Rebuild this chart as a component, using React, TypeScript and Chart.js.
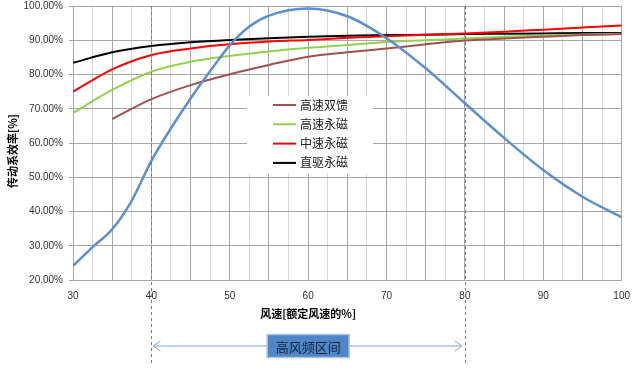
import React, { useEffect, useRef } from "react";
import { Chart, registerables } from "chart.js";

Chart.register(...registerables);

// wind speed (% of rated)
const windSpeeds = [30, 35, 40, 45, 50, 55, 60, 65, 70, 75, 80, 85, 90, 95, 100];
const freqSpeeds = [30, 32.5, 35, 37.5, 40, 42.5, 45, 47.5, 50, 52.5, 55, 60, 65, 70, 75, 80, 85, 90, 95, 100];
const freqValues = [24.1, 29.6, 34.8, 43.2, 54.8, 64.3, 73.0, 81.0, 88.5, 94.0, 97.2, 99.3, 97.0, 90.6, 81.8, 71.6, 61.5, 52.1, 44.3, 38.3];

const dfigSpeeds = [35, 40, 45, 50, 55, 60, 65, 70, 75, 80, 85, 90, 95, 100];
const dfigValues = [67.0, 72.8, 76.9, 80.1, 82.8, 85.2, 86.5, 87.6, 88.8, 89.9, 90.5, 91.0, 91.5, 91.8];
const hsPmValues = [68.8, 75.5, 80.8, 83.7, 85.4, 86.7, 87.8, 88.6, 89.5, 90.0, 90.5, 91.0, 91.4, 91.7, 91.9];
const msPmValues = [75.0, 81.5, 85.7, 87.6, 88.8, 89.6, 90.1, 90.7, 91.2, 91.6, 92.0, 92.5, 93.1, 93.7, 94.3];
const ddPmValues = [83.4, 86.5, 88.3, 89.4, 90.1, 90.6, 91.0, 91.3, 91.5, 91.6, 91.8, 91.9, 92.0, 92.1, 92.1];

const seriesNames = ["高速双馈", "高速永磁", "中速永磁", "直驱永磁"];
const seriesColors = ["#a0504e", "#92d050", "#ff0000", "#000000"];
const freqColor = "#5b8fd0";

const yTitle = "传动系效率[%]";
const xTitle = "风速[额定风速的%]";
const bandLabel = "高风频区间";
const bandStart = 40;
const bandEnd = 80;

const toPts = (xs: number[], ys: number[]) => xs.map((x, i) => ({ x, y: ys[i] }));

const FONT = "'Liberation Sans', 'Noto Sans CJK SC', sans-serif";
const CJK = "'Noto Sans CJK SC', 'Liberation Sans', sans-serif";

const overlayPlugin = {
  id: "overlay",
  beforeDatasetsDraw(chart: any) {
    const { ctx, chartArea } = chart;
    ctx.save();
    ctx.fillStyle = "#ffffff";
    ctx.fillRect(chartArea.left + 174, chartArea.top + 90, 126, 78);
    ctx.restore();
  },
  afterDatasetsDraw(chart: any) {
    const { ctx, chartArea, scales } = chart;
    const xs = scales.x;
    ctx.save();
    const lx = chartArea.left + 200;
    let ly = chartArea.top + 99;
    seriesNames.forEach((name, i) => {
      ctx.strokeStyle = seriesColors[i];
      ctx.lineWidth = 2;
      ctx.beginPath();
      ctx.moveTo(lx, ly);
      ctx.lineTo(lx + 23, ly);
      ctx.stroke();
      ctx.fillStyle = "#222";
      ctx.font = `12px ${CJK}`;
      ctx.textAlign = "left";
      ctx.textBaseline = "middle";
      ctx.fillText(name, lx + 27, ly);
      ly += 19.3;
    });
    ctx.restore();

    const x1 = xs.getPixelForValue(bandStart);
    const x2 = xs.getPixelForValue(bandEnd);
    ctx.save();
    ctx.strokeStyle = "#4f81bd";
    ctx.lineWidth = 1;
    ctx.setLineDash([3, 3]);
    [x1, x2].forEach((px) => {
      ctx.beginPath();
      ctx.moveTo(Math.round(px) + 0.5, chartArea.top);
      ctx.lineTo(Math.round(px) + 0.5, 366);
      ctx.stroke();
    });
    ctx.restore();
  },
  afterDraw(chart: any) {
    const { ctx, chartArea, scales } = chart;
    const xs = scales.x;
    const x1 = xs.getPixelForValue(bandStart);
    const x2 = xs.getPixelForValue(bandEnd);
    const mid = (x1 + x2) / 2;
    ctx.save();
    ctx.translate(13, (chartArea.top + chartArea.bottom) / 2 + 8);
    ctx.rotate(-Math.PI / 2);
    ctx.font = `bold 11px ${CJK}`;
    ctx.fillStyle = "#000";
    ctx.textAlign = "center";
    ctx.textBaseline = "middle";
    ctx.fillText(yTitle, 0, 0);
    ctx.restore();

    ctx.save();
    ctx.font = `bold 11px ${CJK}`;
    ctx.fillStyle = "#000";
    ctx.textAlign = "center";
    ctx.textBaseline = "middle";
    ctx.fillText(xTitle, mid, chartArea.bottom + 34);

    const ay = chartArea.bottom + 66;
    ctx.strokeStyle = "#7fa6d6";
    ctx.lineWidth = 1;
    ctx.beginPath();
    ctx.moveTo(x1 + 2, ay);
    ctx.lineTo(x2 - 3, ay);
    ctx.stroke();
    ctx.beginPath();
    ctx.moveTo(x1 + 9, ay - 5);
    ctx.lineTo(x1 + 2, ay);
    ctx.lineTo(x1 + 9, ay + 5);
    ctx.moveTo(x2 - 10, ay - 5);
    ctx.lineTo(x2 - 3, ay);
    ctx.lineTo(x2 - 10, ay + 5);
    ctx.stroke();

    const bw = 82;
    const bh = 23;
    ctx.fillStyle = "#4e86c6";
    ctx.fillRect(mid - bw / 2, ay - bh / 2, bw, bh);
    ctx.strokeStyle = "#a9c4e4";
    ctx.lineWidth = 1.5;
    ctx.strokeRect(mid - bw / 2, ay - bh / 2, bw, bh);
    ctx.fillStyle = "#14233d";
    ctx.font = `13px ${CJK}`;
    ctx.fillText(bandLabel, mid, ay + 1);
    ctx.restore();
  },
};

export default function App() {
  const ref = useRef<HTMLCanvasElement | null>(null);

  useEffect(() => {
    document.body.style.margin = "0";
    const canvas = ref.current;
    if (!canvas) return;
    const common = { pointRadius: 0, cubicInterpolationMode: "monotone", fill: false };
    const chart = new Chart(canvas, {
      type: "line",
      data: {
        datasets: [
          { label: "风频", data: toPts(freqSpeeds, freqValues), borderColor: freqColor, borderWidth: 2.5, ...common },
          { label: seriesNames[0], data: toPts(dfigSpeeds, dfigValues), borderColor: seriesColors[0], borderWidth: 2, ...common },
          { label: seriesNames[1], data: toPts(windSpeeds, hsPmValues), borderColor: seriesColors[1], borderWidth: 2, ...common },
          { label: seriesNames[2], data: toPts(windSpeeds, msPmValues), borderColor: seriesColors[2], borderWidth: 2, ...common },
          { label: seriesNames[3], data: toPts(windSpeeds, ddPmValues), borderColor: seriesColors[3], borderWidth: 2, ...common },
        ],
      },
      options: {
        animation: false,
        responsive: false,
        devicePixelRatio: 1,
        layout: { padding: { left: 0, right: 16, top: 6, bottom: 0 } },
        plugins: {
          legend: { display: false },
          tooltip: { enabled: false },
        },
        scales: {
          x: {
            type: "linear",
            min: 30,
            max: 100,
            afterFit: (s: any) => {
              s.height = 90;
            },
            ticks: {
              stepSize: 2.5,
              autoSkip: false,
              maxRotation: 0,
              padding: 10,
              color: "#333",
              font: { family: FONT, size: 10 },
              callback: (v: any) => (Number(v) % 10 === 0 ? String(v) : ""),
            },
            grid: {
              color: (c: any) =>
                c.tick && c.tick.value % 5 === 0 ? "#a6a6a6" : "#d9d9d9",
              drawTicks: false,
            },
            border: { color: "#a6a6a6" },
          },
          y: {
            min: 20,
            max: 100,
            afterFit: (s: any) => {
              s.width = 73;
              s.paddingTop = 0;
              s.paddingBottom = 0;
            },
            ticks: {
              stepSize: 10,
              padding: 6,
              color: "#333",
              font: { family: FONT, size: 10 },
              callback: (v: any) => Number(v).toFixed(2) + "%",
            },
            grid: { color: "#a6a6a6", tickLength: 4 },
            border: { color: "#a6a6a6" },
          },
        },
      },
      plugins: [overlayPlugin],
    } as any);
    return () => chart.destroy();
  }, []);

  return (
    <div style={{ position: "absolute", left: 0, top: 0, width: 640, height: 370 }}>
      <canvas ref={ref} width={640} height={370} />
    </div>
  );
}
